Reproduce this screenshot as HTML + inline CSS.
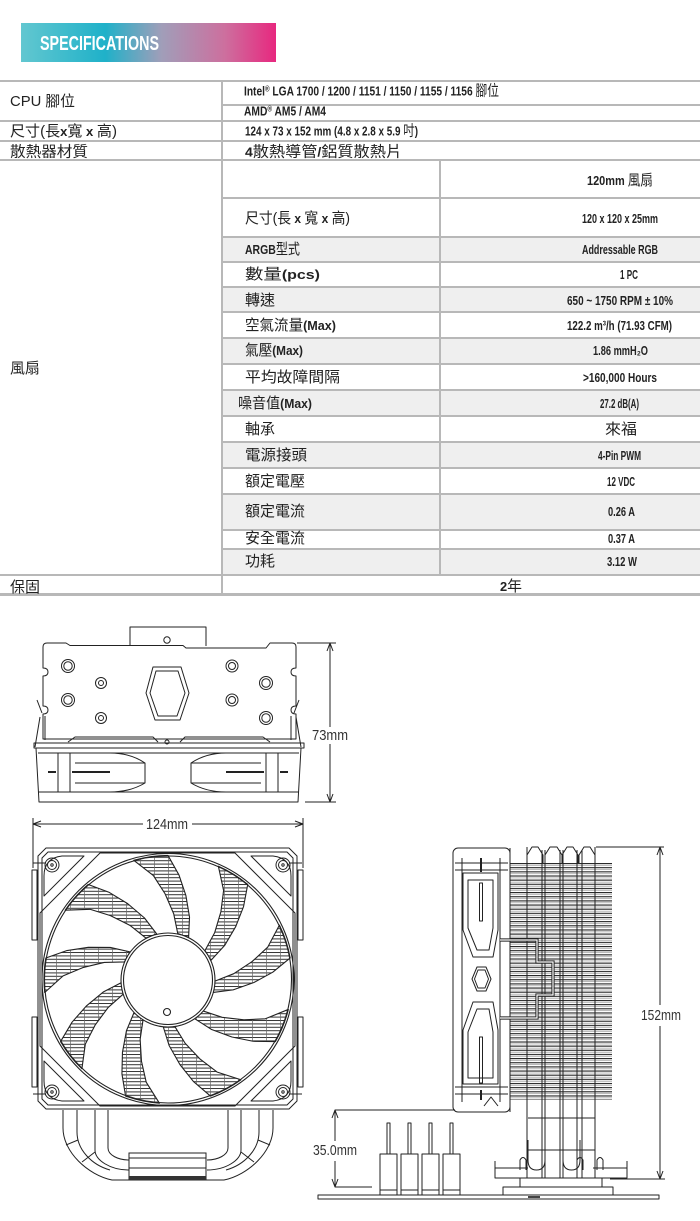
<!DOCTYPE html>
<html><head><meta charset="utf-8"><style>
html,body{margin:0;padding:0;background:#fff;}
svg{display:block}
.cj{font-family:"Liberation Sans","Noto Sans CJK TC",sans-serif;font-size:15px;fill:#222}
.nb{font-family:"Liberation Sans Narrow","Liberation Sans","Noto Sans CJK TC",sans-serif;font-weight:700;font-size:13px}
.dm{font-family:"Liberation Sans",sans-serif;font-size:15px;fill:#333}
</style></head><body>
<svg width="700" height="1221" viewBox="0 0 700 1221" xmlns="http://www.w3.org/2000/svg">
<defs>
<linearGradient id="bg" x1="0" x2="1" y1="0" y2="0">
<stop offset="0" stop-color="#62c7d0"/><stop offset=".33" stop-color="#1fb1c9"/><stop offset=".55" stop-color="#a09eb9"/><stop offset=".8" stop-color="#cd6f9e"/><stop offset="1" stop-color="#e7287f"/>
</linearGradient>
<pattern id="hatch" width="14" height="3.4" patternUnits="userSpaceOnUse">
<rect width="14" height="1" fill="#333"/><rect width="0.7" height="3.4" fill="#666"/>
</pattern>
<pattern id="fins" width="20" height="4.15" patternUnits="userSpaceOnUse" x="0" y="863">
<rect width="20" height="1.1" fill="#222"/><rect y="2.2" width="20" height="0.6" fill="#888"/>
</pattern>
<path id="gap" d="M47,0 L65.5,-8 L83.4,-20.8 L98.7,-35.9 L111.5,-54.4 A124,124 0 0 0 92.1,-83 L87,-58.7 L75.9,-40.4 L61.6,-23.7 L45.6,-11.4 Z"/>
<clipPath id="gaps">
<use href="#gap" transform="translate(168,979.5) rotate(-24)"/>
<use href="#gap" transform="translate(168,979.5) rotate(-64)"/>
<use href="#gap" transform="translate(168,979.5) rotate(-104)"/>
<use href="#gap" transform="translate(168,979.5) rotate(-144)"/>
<use href="#gap" transform="translate(168,979.5) rotate(-184)"/>
<use href="#gap" transform="translate(168,979.5) rotate(-224)"/>
<use href="#gap" transform="translate(168,979.5) rotate(-264)"/>
<use href="#gap" transform="translate(168,979.5) rotate(-304)"/>
<use href="#gap" transform="translate(168,979.5) rotate(-344)"/>
</clipPath>
</defs>

<!-- Banner -->
<rect x="21" y="23" width="255" height="39" fill="url(#bg)"/>
<text x="40" y="50" class="nb" style="font-size:20px" fill="#fff" textLength="119" lengthAdjust="spacingAndGlyphs">SPECIFICATIONS</text>

<!-- Table backgrounds -->
<g fill="#efefef">
<rect x="223" y="238" width="477" height="24"/>
<rect x="223" y="288" width="477" height="24"/>
<rect x="223" y="339" width="477" height="25"/>
<rect x="223" y="391" width="477" height="25"/>
<rect x="223" y="443" width="477" height="25"/>
<rect x="223" y="495" width="477" height="35"/>
<rect x="223" y="550" width="477" height="25"/>
</g>
<!-- Table lines -->
<g fill="#b8b8b8">
<rect x="0" y="80" width="700" height="2"/>
<rect x="222" y="104" width="478" height="2"/>
<rect x="0" y="120" width="700" height="2"/>
<rect x="0" y="140" width="700" height="2"/>
<rect x="0" y="159" width="700" height="2"/>
<rect x="222" y="197" width="478" height="2"/>
<rect x="222" y="236" width="478" height="2"/>
<rect x="222" y="261" width="478" height="2"/>
<rect x="222" y="286" width="478" height="2"/>
<rect x="222" y="311" width="478" height="2"/>
<rect x="222" y="337" width="478" height="2"/>
<rect x="222" y="363" width="478" height="2"/>
<rect x="222" y="389" width="478" height="2"/>
<rect x="222" y="415" width="478" height="2"/>
<rect x="222" y="441" width="478" height="2"/>
<rect x="222" y="467" width="478" height="2"/>
<rect x="222" y="493" width="478" height="2"/>
<rect x="222" y="529" width="478" height="2"/>
<rect x="222" y="548" width="478" height="2"/>
<rect x="0" y="574" width="700" height="2"/>
<rect x="0" y="593" width="700" height="3"/>
<rect x="221" y="80" width="2" height="515"/>
<rect x="439" y="160" width="2" height="415"/>
</g>

<!-- Table text: top -->
<text class="cj" x="10" y="106" textLength="65" lengthAdjust="spacingAndGlyphs">CPU 腳位</text>
<text class="cj" x="244" y="95.5" textLength="255" lengthAdjust="spacingAndGlyphs"><tspan class="nb">Intel</tspan><tspan class="nb" style="font-size:8px" dy="-4">®</tspan><tspan class="nb" dy="4"> LGA 1700 / 1200 / 1151 / 1150 / 1155 / 1156 </tspan>腳位</text>
<text class="cj nb" x="244" y="115.5" textLength="82" lengthAdjust="spacingAndGlyphs">AMD<tspan style="font-size:8px" dy="-4">®</tspan><tspan dy="4"> AM5 / AM4</tspan></text>
<text class="cj" x="10" y="136" textLength="107" lengthAdjust="spacingAndGlyphs">尺寸(長<tspan class="nb">x</tspan>寬<tspan class="nb"> x </tspan>高)</text>
<text class="cj" x="245" y="135.5" textLength="173" lengthAdjust="spacingAndGlyphs"><tspan class="nb">124 x 73 x 152 mm (4.8 x 2.8 x 5.9 </tspan>吋<tspan class="nb">)</tspan></text>
<text class="cj" x="10" y="156.5" textLength="78" lengthAdjust="spacingAndGlyphs">散熱器材質</text>
<text class="cj" x="245" y="156.5" textLength="157" lengthAdjust="spacingAndGlyphs"><tspan class="nb">4</tspan>散熱導管<tspan class="nb">/</tspan>鋁質散熱片</text>

<!-- Fan section -->
<text class="cj" x="10" y="373" textLength="30" lengthAdjust="spacingAndGlyphs">風扇</text>
<text class="cj" x="587" y="185" textLength="66" lengthAdjust="spacingAndGlyphs"><tspan class="nb">120mm </tspan>風扇</text>

<text class="cj" x="245" y="223" textLength="105" lengthAdjust="spacingAndGlyphs">尺寸(長<tspan class="nb"> x </tspan>寬<tspan class="nb"> x </tspan>高)</text>
<text class="cj nb" x="582" y="223" textLength="76" lengthAdjust="spacingAndGlyphs">120 x 120 x 25mm</text>

<text class="cj" x="245" y="254" textLength="55" lengthAdjust="spacingAndGlyphs"><tspan class="nb">ARGB</tspan>型式</text>
<text class="cj nb" x="582" y="254" textLength="76" lengthAdjust="spacingAndGlyphs">Addressable RGB</text>

<text class="cj" x="245" y="279" textLength="75" lengthAdjust="spacingAndGlyphs">數量<tspan class="nb">(pcs)</tspan></text>
<text class="cj nb" x="620" y="279" textLength="18" lengthAdjust="spacingAndGlyphs">1 PC</text>

<text class="cj" x="245" y="305" textLength="30" lengthAdjust="spacingAndGlyphs">轉速</text>
<text class="cj nb" x="567" y="305" textLength="106" lengthAdjust="spacingAndGlyphs">650 ~ 1750 RPM ± 10%</text>

<text class="cj" x="245" y="330" textLength="91" lengthAdjust="spacingAndGlyphs">空氣流量<tspan class="nb">(Max)</tspan></text>
<text class="cj nb" x="567" y="330" textLength="105" lengthAdjust="spacingAndGlyphs">122.2 m³/h (71.93 CFM)</text>

<text class="cj" x="245" y="355" textLength="58" lengthAdjust="spacingAndGlyphs">氣壓<tspan class="nb">(Max)</tspan></text>
<text class="cj nb" x="593" y="355" textLength="55" lengthAdjust="spacingAndGlyphs">1.86 mmH₂O</text>

<text class="cj" x="245" y="382" textLength="95" lengthAdjust="spacingAndGlyphs">平均故障間隔</text>
<text class="cj nb" x="583" y="382" textLength="74" lengthAdjust="spacingAndGlyphs">&gt;160,000 Hours</text>

<text class="cj" x="238" y="408" textLength="74" lengthAdjust="spacingAndGlyphs">噪音值<tspan class="nb">(Max)</tspan></text>
<text class="cj nb" x="600" y="408" textLength="39" lengthAdjust="spacingAndGlyphs">27.2 dB(A)</text>

<text class="cj" x="245" y="434" textLength="30" lengthAdjust="spacingAndGlyphs">軸承</text>
<text class="cj" x="605" y="434" textLength="32" lengthAdjust="spacingAndGlyphs">來福</text>

<text class="cj" x="245" y="460" textLength="62" lengthAdjust="spacingAndGlyphs">電源接頭</text>
<text class="cj nb" x="598" y="460" textLength="43" lengthAdjust="spacingAndGlyphs">4-Pin PWM</text>

<text class="cj" x="245" y="486" textLength="60" lengthAdjust="spacingAndGlyphs">額定電壓</text>
<text class="cj nb" x="607" y="486" textLength="28" lengthAdjust="spacingAndGlyphs">12 VDC</text>

<text class="cj" x="245" y="516" textLength="60" lengthAdjust="spacingAndGlyphs">額定電流</text>
<text class="cj nb" x="608" y="516" textLength="27" lengthAdjust="spacingAndGlyphs">0.26 A</text>

<text class="cj" x="245" y="543" textLength="60" lengthAdjust="spacingAndGlyphs">安全電流</text>
<text class="cj nb" x="608" y="543" textLength="27" lengthAdjust="spacingAndGlyphs">0.37 A</text>

<text class="cj" x="245" y="566" textLength="30" lengthAdjust="spacingAndGlyphs">功耗</text>
<text class="cj nb" x="607" y="566" textLength="30" lengthAdjust="spacingAndGlyphs">3.12 W</text>

<text class="cj" x="10" y="592" textLength="30" lengthAdjust="spacingAndGlyphs">保固</text>
<text class="cj" x="500" y="591" textLength="22" lengthAdjust="spacingAndGlyphs"><tspan class="nb">2</tspan>年</text>

<!-- ===== TOP VIEW ===== -->
<g fill="none" stroke="#222" stroke-width="1" stroke-linejoin="round">
<path d="M130,646 V627 H206 V646"/>
<circle cx="167" cy="640" r="3.2"/>
<path d="M47,643 H66 L70,645.5 H183 L186,648 H266 L270,643 H292 Q296,643 296,647 V668 Q291,668 291,672 Q291,676 296,676 V706 Q291,706 291,710 Q291,714 296,714 V739 H43 V714 Q48,714 48,710 Q48,706 43,706 V676 Q48,676 48,672 Q48,668 43,668 V647 Q43,643 47,643 Z"/>
<circle cx="68" cy="666" r="6.5"/><circle cx="68" cy="666" r="4.2"/>
<circle cx="68" cy="700" r="6.5"/><circle cx="68" cy="700" r="4.2"/>
<circle cx="101" cy="683" r="5.5"/><circle cx="101" cy="683" r="2.5"/>
<circle cx="101" cy="718" r="5.5"/><circle cx="101" cy="718" r="2.5"/>
<circle cx="232" cy="666" r="6"/><circle cx="232" cy="666" r="3.5"/>
<circle cx="232" cy="700" r="6"/><circle cx="232" cy="700" r="3.5"/>
<circle cx="266" cy="683" r="6.5"/><circle cx="266" cy="683" r="4.2"/>
<circle cx="266" cy="718" r="6.5"/><circle cx="266" cy="718" r="4.2"/>
<path d="M153,667 H181 L189,693 L180,720 H155 L146,693 Z"/>
<path d="M156,671 H178 L185,693 L177,716 H158 L150,693 Z"/>
<path d="M68,742 L75,737 H153 L158,742 M180,742 L185,737 H263 L270,742"/>
<circle cx="167" cy="742" r="2"/>
<path d="M37,700 L42,713 M40,717 L35,747 M45,716 V740 M299,700 L294,713 M296,717 L301,747 M291,716 V740"/>
<path d="M34,743 H304 V748 H34 Z"/>
<path d="M36,748 L39,802 H298 L301,748"/>
<path d="M38,753 H299 M38,792 H299 M58,753 V792 M278,753 V792"/>
<g id="tvblade">
<path d="M70,753 H110 Q130,753 145,763 V783 Q130,792 110,792 H70 Z"/>
<path d="M75,763 H145 M75,783 H145"/>
<path d="M72,772 H110 M48,772 H56" stroke-width="2"/>
</g>
<use href="#tvblade" transform="translate(336,0) scale(-1,1)"/>
<path d="M297,643 H336 M305,802 H336 M330,643 V727 M330,744 V802 M327,651 L330,643 L333,651 M327,794 L330,802 L333,794"/>
</g>
<text class="dm" x="312" y="740" textLength="36" lengthAdjust="spacingAndGlyphs">73mm</text>

<!-- ===== FRONT VIEW ===== -->
<g fill="none" stroke="#222" stroke-width="1" stroke-linejoin="round">
<path d="M33,818 V868 M303,818 V868 M33,824 H143 M192,824 H303 M41,821 L33,824 L41,827 M295,821 L303,824 L295,827"/>
<path d="M46,848 H289 L297,856 V1101 L289,1109 H46 L38,1101 V856 Z"/>
<path d="M48,852 H287 L293,858 V1099 L287,1105 H48 L42,1099 V858 Z"/>
<path d="M100,853 H235 L295,913 V1046 L235,1106 H100 L40,1046 V913 Z"/>
<g id="corner">
<circle cx="52" cy="865" r="7"/><circle cx="52" cy="865" r="4.5"/><circle cx="52" cy="865" r="1.2"/>
<path d="M33,863 H46"/>
<path d="M62,856 H84 L44,896 V876 Q44,858 62,856 Z"/>
<rect x="32" y="870" width="5" height="70"/>
</g>
<use href="#corner" transform="translate(335,0) scale(-1,1)"/>
<use href="#corner" transform="translate(0,1957) scale(1,-1)"/>
<use href="#corner" transform="translate(335,1957) scale(-1,-1)"/>
</g>
<rect x="40" y="852" width="258" height="256" fill="url(#hatch)" clip-path="url(#gaps)"/>
<g fill="none" stroke="#222" stroke-width="1.1" stroke-linejoin="round">
<use href="#gap" transform="translate(168,979.5) rotate(-24)"/>
<use href="#gap" transform="translate(168,979.5) rotate(-64)"/>
<use href="#gap" transform="translate(168,979.5) rotate(-104)"/>
<use href="#gap" transform="translate(168,979.5) rotate(-144)"/>
<use href="#gap" transform="translate(168,979.5) rotate(-184)"/>
<use href="#gap" transform="translate(168,979.5) rotate(-224)"/>
<use href="#gap" transform="translate(168,979.5) rotate(-264)"/>
<use href="#gap" transform="translate(168,979.5) rotate(-304)"/>
<use href="#gap" transform="translate(168,979.5) rotate(-344)"/>
<circle cx="168" cy="979.5" r="126"/>
<circle cx="168" cy="979.5" r="123.5"/>
<circle cx="168" cy="980" r="47" fill="#fff"/>
<circle cx="168" cy="980" r="44.5"/>
<circle cx="167" cy="1012" r="3.5"/>
</g>
<text class="dm" x="146" y="829" textLength="42" lengthAdjust="spacingAndGlyphs">124mm</text>

<!-- pipes under fan -->
<g fill="none" stroke="#222" stroke-width="1">
<g id="pipes">
<path d="M63,1110 V1128 C63,1152 88,1175 112,1180 H168"/>
<path d="M77,1110 V1132 C77,1150 92,1165 110,1170"/>
<path d="M95,1110 V1150 C95,1160 110,1170 129,1170"/>
<path d="M108,1110 V1148 C108,1155 118,1160 129,1160"/>
<path d="M66,1145 L78,1140 M82,1162 L95,1152"/>
</g>
<use href="#pipes" transform="translate(336,0) scale(-1,1)"/>
<rect x="129" y="1153" width="77" height="27"/>
<path d="M129,1158 H206 M129,1168 H206"/>
</g>
<rect x="129" y="1176" width="77" height="4" fill="#333"/>

<!-- ===== SIDE VIEW ===== -->
<rect x="510" y="863" width="102" height="237" fill="url(#fins)"/>
<g fill="none" stroke="#222" stroke-width="1" stroke-linejoin="round">
<rect x="453" y="848" width="57" height="264" rx="5"/>
<path d="M462,858 V1102 M500,858 V1102"/>
<path d="M455,863 H508 M455,870 H508 M455,1087 H508 M455,1094 H508"/>
<path d="M463,873 H498 V930 L493,957 H473 L463,930 Z"/>
<path d="M468,880 H493 V928 L489,950 H477 L468,928 Z"/>
<path d="M463,1030 L473,1002 H493 L498,1030 V1084 H463 Z"/>
<path d="M468,1032 L477,1009 H489 L493,1032 V1078 H468 Z"/>
<rect x="479.5" y="883" width="3" height="38"/>
<rect x="479.5" y="1037" width="3" height="46"/>
<path d="M477,967 H486 L491,979 L486,991 H477 L472,979 Z"/>
<path d="M478,970 H485 L488.5,979 L485,988 H478 L474.5,979 Z"/>
<path d="M481,858 V872 M481,1090 V1100" stroke-width="2"/>
<path d="M484,1106 L491,1097 L498,1106"/>
<path d="M510,848 V1112"/>
<path d="M527,863 V855 L532,847 H538 L543,855 V863 M545,863 V855 L550,847 H557 L562,855 V863 M562,863 V855 L567,847 H573 L578,855 V863 M579,863 V855 L584,847 H590 L595,855 V863"/>
<path d="M527,847 V1178 M542,850 V1178 M545,850 V1178 M560,850 V1178 M563,850 V1178 M577,850 V1178 M582,850 V1178 M595,847 V1178"/>
<path d="M528,1118 H595 M528,1150 H595"/>
<path d="M528,1140 V1160 Q528,1170 536.5,1170 Q545,1170 545,1160 V1140 M563,1140 V1160 Q563,1170 571.5,1170 Q580,1170 580,1160 V1140"/>
<rect x="503" y="1187" width="110" height="8"/>
<rect x="520" y="1178" width="82" height="9"/>
<path d="M495,1168 H528 M593,1168 H627 M495,1161 V1178 H520 M627,1161 V1178 H602"/>
<path d="M520,1170 V1160 Q523,1155 526,1160 V1170 M577,1170 V1160 Q580,1155 583,1160 V1170 M597,1170 V1160 Q600,1155 603,1160 V1170"/>
<rect x="318" y="1195" width="341" height="4"/>
<rect x="380" y="1154" width="17" height="41"/>
<rect x="401" y="1154" width="17" height="41"/>
<rect x="422" y="1154" width="17" height="41"/>
<rect x="443" y="1154" width="17" height="41"/>
<path d="M380,1190 H397 M401,1190 H418 M422,1190 H439 M443,1190 H460"/>
<rect x="387" y="1123" width="3" height="31"/>
<rect x="408" y="1123" width="3" height="31"/>
<rect x="429" y="1123" width="3" height="31"/>
<rect x="450" y="1123" width="3" height="31"/>
<path d="M335,1110 H455 M335,1187 H372 M335,1110 V1141 M335,1161 V1187 M332,1118 L335,1110 L338,1118 M332,1179 L335,1187 L338,1179"/>
<path d="M596,847 H664 M610,1179 H665 M660,847 V1005 M660,1026 V1179 M657,855 L660,847 L663,855 M657,1171 L660,1179 L663,1171"/>
</g>
<path d="M500,940 H537 V962 H553 V995 H537 V1018 H500" fill="none" stroke="#222" stroke-width="3.2"/>
<path d="M500,940 H537 V962 H553 V995 H537 V1018 H500" fill="none" stroke="#fff" stroke-width="1.2"/>
<rect x="528" y="1196" width="12" height="2" fill="#444"/>
<text class="dm" x="313" y="1155" textLength="44" lengthAdjust="spacingAndGlyphs">35.0mm</text>
<text class="dm" x="641" y="1020" textLength="40" lengthAdjust="spacingAndGlyphs">152mm</text>
</svg>
</body></html>
